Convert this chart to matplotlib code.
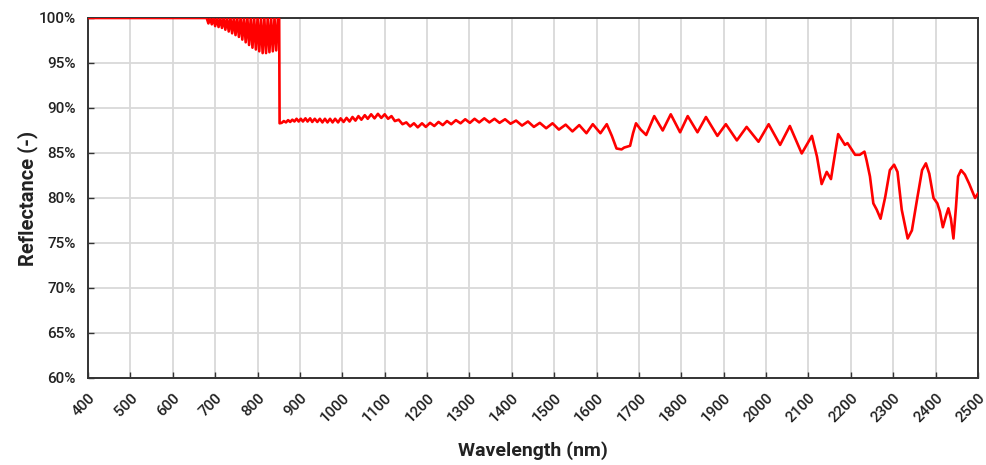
import matplotlib
matplotlib.use("Agg")
import matplotlib.pyplot as plt

# ---- data ----
wavelength_flat = [400, 680]
reflect_flat = [100.0, 100.0]

# dense ripple region 680-851 nm (peaks at 100 %, valleys listed)
wavelength_ripple = [680, 684, 688, 692, 696, 700, 704, 708, 712, 716, 720, 724, 728,
                     732, 736, 740, 744, 748, 752, 756, 760, 764, 768, 772, 776, 780,
                     784, 788, 792, 796, 800, 804, 808, 812, 816, 820, 824, 828, 832,
                     836, 840, 844, 848, 851]
reflect_ripple = [100.0, 99.4, 100.0, 99.3, 100.0, 99.1, 100.0, 99.0, 100.0, 98.9, 100.0,
                  98.7, 100.0, 98.5, 100.0, 98.3, 100.0, 98.1, 100.0, 97.9, 100.0, 97.6,
                  100.0, 97.3, 100.0, 97.0, 100.0, 96.7, 100.0, 96.5, 100.0, 96.3, 100.0,
                  96.1, 100.0, 96.1, 100.0, 96.2, 100.0, 96.3, 100.0, 96.4, 100.0, 100.0]

wavelength_main = [852, 857, 862, 867, 872, 877, 882, 887, 892, 897, 902, 907, 913, 918,
                   924, 929, 935, 941, 947, 953, 959, 965, 971, 977, 983, 990, 996, 1003,
                   1010, 1017, 1024, 1031, 1038, 1045, 1053, 1060, 1068, 1076, 1084, 1092,
                   1100, 1108, 1116, 1124, 1133, 1142, 1151, 1160, 1169, 1178, 1188, 1197,
                   1207, 1217, 1227, 1237, 1247, 1257, 1268, 1279, 1290, 1301, 1312, 1323,
                   1335, 1347, 1359, 1371, 1384, 1397, 1410, 1424, 1438, 1452, 1466, 1481,
                   1496, 1511, 1527, 1543, 1559, 1576, 1591, 1609, 1624, 1636, 1647, 1659,
                   1665, 1672, 1679, 1686, 1693, 1704, 1717, 1736, 1756, 1775, 1797, 1815,
                   1838, 1858, 1885, 1905, 1931, 1954, 1982, 2006, 2033, 2056, 2084, 2108,
                   2120, 2131, 2143, 2153, 2170, 2186, 2192, 2210, 2221, 2232, 2237, 2245,
                   2253, 2261, 2270, 2281, 2292, 2302, 2310, 2320, 2334, 2344, 2356, 2368,
                   2377, 2385, 2395, 2404, 2410, 2417, 2425, 2430, 2436, 2442, 2448, 2453,
                   2460, 2469, 2479, 2493, 2500]
reflect_main = [88.3, 88.35, 88.55, 88.4, 88.65, 88.45, 88.7, 88.5, 88.8, 88.5, 88.8, 88.5,
                88.85, 88.5, 88.85, 88.45, 88.8, 88.45, 88.8, 88.4, 88.8, 88.4, 88.8, 88.4,
                88.8, 88.4, 88.85, 88.45, 88.9, 88.5, 89.0, 88.6, 89.1, 88.7, 89.2, 88.8,
                89.3, 88.85, 89.35, 88.9, 89.3, 88.8, 89.1, 88.55, 88.7, 88.2, 88.4, 87.95,
                88.3, 87.85, 88.3, 87.9, 88.35, 88.0, 88.45, 88.1, 88.55, 88.2, 88.65, 88.3,
                88.75, 88.35, 88.8, 88.4, 88.85, 88.4, 88.8, 88.35, 88.75, 88.25, 88.6,
                88.05, 88.5, 87.9, 88.35, 87.75, 88.3, 87.6, 88.15, 87.4, 88.1, 87.2, 88.2,
                87.2, 88.2, 86.9, 85.5, 85.4, 85.6, 85.7, 85.8, 87.2, 88.3, 87.6, 87.0, 89.1,
                87.5, 89.3, 87.3, 89.1, 87.3, 89.0, 86.9, 88.2, 86.4, 87.9, 86.25, 88.2, 85.9,
                88.0, 84.95, 86.9, 84.6, 81.55, 82.9, 82.1, 87.1, 85.9, 86.1, 84.8, 84.8,
                85.15, 84.2, 82.4, 79.4, 78.7, 77.7, 80.1, 83.1, 83.7, 82.9, 78.7, 75.5, 76.4,
                79.8, 83.1, 83.85, 82.7, 80.0, 79.4, 78.5, 76.75, 78.1, 78.85, 77.7, 75.5,
                79.0, 82.4, 83.1, 82.6, 81.6, 80.0, 80.5]

x_ticks = [400, 500, 600, 700, 800, 900, 1000, 1100, 1200, 1300, 1400, 1500, 1600,
           1700, 1800, 1900, 2000, 2100, 2200, 2300, 2400, 2500]
y_ticks = [60, 65, 70, 75, 80, 85, 90, 95, 100]
y_tick_labels = ["60%", "65%", "70%", "75%", "80%", "85%", "90%", "95%", "100%"]

wavelength = wavelength_flat + wavelength_ripple[1:] + wavelength_main
reflectance = reflect_flat + reflect_ripple[1:] + reflect_main

# ---- figure ----
plt.rcParams['font.family'] = ['Roboto', 'DejaVu Sans']
fig = plt.figure(figsize=(9.87, 4.65), dpi=100)
ax = fig.add_axes([0.0892, 0.1871, 0.9017, 0.7742])

ax.plot(wavelength, reflectance, color='#ff0000', lw=1.9, solid_joinstyle='round', zorder=3)

ax.set_xlim(400, 2500)
ax.set_ylim(60, 100)
ax.set_xticks(x_ticks)
ax.set_xticklabels([str(t) for t in x_ticks], rotation=45, ha='right', va='top',
                   rotation_mode='anchor', fontsize=11, fontweight='medium', color='#222222')
ax.set_yticks(y_ticks)
ax.set_yticklabels(y_tick_labels, fontsize=11, fontweight='medium', color='#222222')
ax.tick_params(axis='both', direction='in', length=4, width=1, color='#333333')
ax.tick_params(axis='x', pad=9)
ax.tick_params(axis='y', pad=9)

ax.grid(True, color='#d9d9d9', lw=1.3, zorder=0)
ax.set_axisbelow(True)
for s in ax.spines.values():
    s.set_color('#333333')
    s.set_linewidth(1.4)

ax.set_xlabel('Wavelength (nm)', fontsize=14, fontweight='bold', color='#222222', labelpad=12)
ax.set_ylabel('Reflectance (-)', fontsize=14.5, fontweight='bold', color='#222222', labelpad=0)

fig.savefig('out.png', dpi=100)
